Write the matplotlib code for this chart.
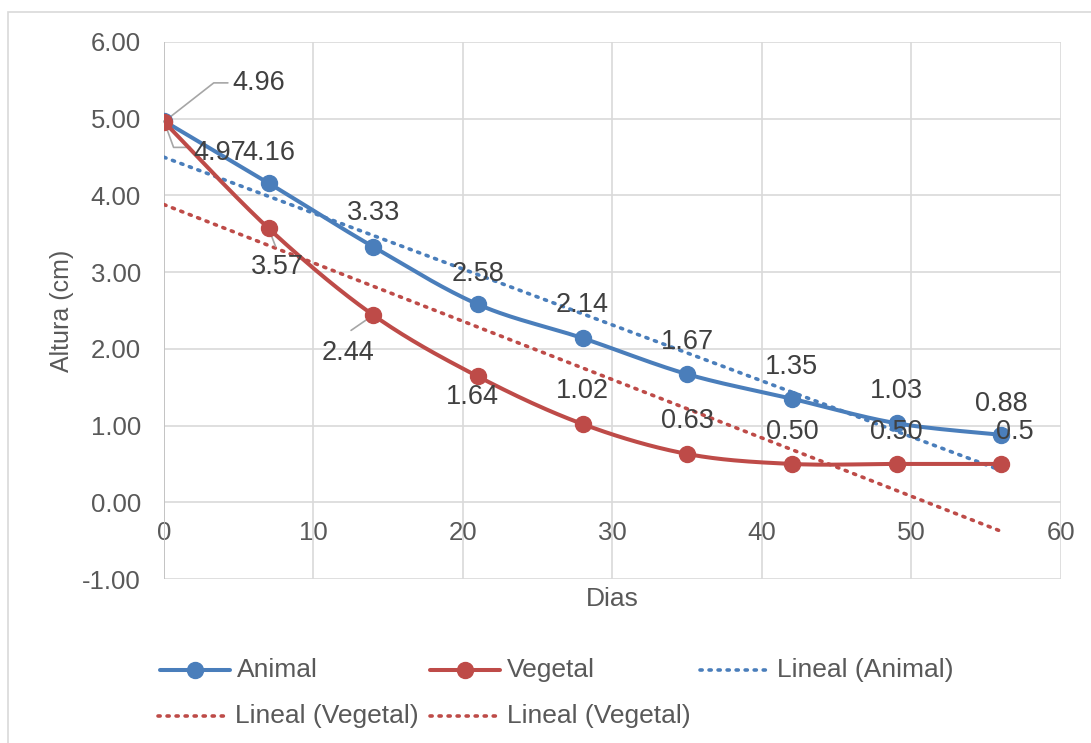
import matplotlib.pyplot as plt
import numpy as np
from matplotlib.lines import Line2D
from matplotlib.patches import Rectangle

plt.rcParams['font.family'] = ['Liberation Sans', 'DejaVu Sans']

dias = [0, 7, 14, 21, 28, 35, 42, 49, 56]
animal = [4.97, 4.16, 3.33, 2.58, 2.14, 1.67, 1.35, 1.03, 0.88]
vegetal = [4.96, 3.57, 2.44, 1.64, 1.02, 0.63, 0.50, 0.50, 0.50]
animal_txt = ['4.97', '4.16', '3.33', '2.58', '2.14', '1.67', '1.35', '1.03', '0.88']
vegetal_txt = ['4.96', '3.57', '2.44', '1.64', '1.02', '0.63', '0.50', '0.50', '0.5']

# label offsets in points (dx, dy)
animal_off = [(40, -23), (0, 22), (0, 24), (0, 22), (0, 24), (0, 23), (0, 23), (0, 23), (0, 22)]
vegetal_off = [(68, 28), (6, -28), (-18, -27), (-4, -15), (0, 24), (0, 24), (0, 23), (0, 23), (10, 23)]

BLUE = '#4a7ebb'
RED = '#be4b48'
GRID = '#d9d9d9'
TXT = '#404040'
DOT = (0, (0.6, 1.9))


def smooth(x, y, n=30):
    # bezier smoothing, same idea as the spreadsheet "smoothed line"
    x = np.asarray(x, float)
    y = np.asarray(y, float)
    px = np.concatenate([[x[0]], x, [x[-1]]])
    py = np.concatenate([[y[0]], y, [y[-1]]])
    t = np.linspace(0, 1, n)
    xs, ys = [], []
    for i in range(len(x) - 1):
        p0 = np.array([px[i + 1], py[i + 1]])
        p3 = np.array([px[i + 2], py[i + 2]])
        c1 = p0 + (np.array([px[i + 2], py[i + 2]]) - np.array([px[i], py[i]])) / 6
        c2 = p3 - (np.array([px[i + 3], py[i + 3]]) - np.array([px[i + 1], py[i + 1]])) / 6
        b = ((1 - t) ** 3)[:, None] * p0 + (3 * (1 - t) ** 2 * t)[:, None] * c1 \
            + (3 * (1 - t) * t ** 2)[:, None] * c2 + (t ** 3)[:, None] * p3
        xs.append(b[:, 0])
        ys.append(b[:, 1])
    return np.concatenate(xs), np.concatenate(ys)


fig = plt.figure(figsize=(10.91, 7.43), dpi=100)
ax = fig.add_axes([0.1503, 0.2207, 0.8222, 0.7228])

fig.patches.append(Rectangle((8 / 1091, -0.1), 1.2, 1 - 12 / 743 + 0.1,
                             transform=fig.transFigure, fill=False,
                             edgecolor='#d9d9d9', lw=1.2))

# linear trend lines
for vals, col in [(animal, BLUE), (vegetal, RED)]:
    m, c = np.polyfit(dias, vals, 1)
    xx = np.array([dias[0], dias[-1]])
    ax.plot(xx, m * xx + c, color=col, lw=2.6, ls=DOT,
            dash_capstyle='round', zorder=3)

for vals, col in [(animal, BLUE), (vegetal, RED)]:
    sx, sy = smooth(dias, vals)
    ax.plot(sx, sy, color=col, lw=2.9, zorder=4, solid_capstyle='round')
    ax.plot(dias, vals, 'o', color=col, ms=11.5, zorder=5)

for x, v, s, off in zip(dias, animal, animal_txt, animal_off):
    ax.annotate(s, (x, v), xytext=off, textcoords='offset points',
                ha='center', va='center', fontsize=19.5, color=TXT, zorder=6)
for x, v, s, off in zip(dias, vegetal, vegetal_txt, vegetal_off):
    ax.annotate(s, (x, v), xytext=off, textcoords='offset points',
                ha='center', va='center', fontsize=19.5, color=TXT, zorder=6)

# leader lines for the crowded labels
ax.annotate('', (0, 4.97), xytext=(19, -19), textcoords='offset points',
            arrowprops=dict(arrowstyle='-', color='#a6a6a6', lw=1.2,
                            connectionstyle='angle,angleA=0,angleB=110,rad=0',
                            shrinkA=0, shrinkB=0))
ax.annotate('', (0, 4.96), xytext=(46, 28), textcoords='offset points',
            arrowprops=dict(arrowstyle='-', color='#a6a6a6', lw=1.2,
                            connectionstyle='angle,angleA=0,angleB=38,rad=0',
                            shrinkA=0, shrinkB=0))
ax.annotate('', (dias[1], vegetal[1]), xytext=(5, -13), textcoords='offset points',
            arrowprops=dict(arrowstyle='-', color='#a6a6a6', lw=1.2,
                            shrinkA=0, shrinkB=5))
ax.annotate('', (dias[2], vegetal[2]), xytext=(-16, -11), textcoords='offset points',
            arrowprops=dict(arrowstyle='-', color='#a6a6a6', lw=1.2,
                            shrinkA=0, shrinkB=5))

ax.set_xlim(0, 60)
ax.set_ylim(-1, 6)
ax.set_xticks(range(0, 61, 10))
ax.set_yticks(range(-1, 7))
ax.set_yticklabels([f'{v:.2f}' for v in range(-1, 7)])
ax.grid(True, color=GRID, lw=1.2, zorder=0)
ax.set_axisbelow(True)
for sp in ax.spines.values():
    sp.set_visible(False)
ax.axvline(0, color='#bfbfbf', lw=1.2, zorder=1)
ax.tick_params(length=0, labelcolor='#595959')
ax.tick_params(axis='y', pad=16.5, labelsize=18.5)
# x tick labels sit next to the zero line, not at the bottom
ax.tick_params(axis='x', pad=-42, labelsize=18.5)

ax.set_ylabel('Altura (cm)', fontsize=18, color='#595959', labelpad=6)
ax.set_xlabel('Dias', fontsize=19, color='#595959', labelpad=6)

# legend
items = [
    ('Animal', BLUE, '-', 'o', 160, 670),
    ('Vegetal', RED, '-', 'o', 430, 670),
    ('Lineal (Animal)', BLUE, DOT, None, 700, 670),
    ('Lineal (Vegetal)', RED, DOT, None, 158, 716),
    ('Lineal (Vegetal)', RED, DOT, None, 430, 716),
]
for lab, col, ls, mk, px, py in items:
    x0 = px / 1091
    y0 = 1 - py / 743
    w = 70 / 1091
    fig.add_artist(Line2D([x0, x0 + w], [y0, y0], transform=fig.transFigure,
                          color=col, lw=2.9 if mk else 2.6, ls=ls,
                          dash_capstyle='round', solid_capstyle='round'))
    if mk:
        fig.add_artist(Line2D([x0 + w / 2], [y0], transform=fig.transFigure,
                              color=col, marker='o', ms=11.5, ls='none'))
    fig.text(x0 + w + 7 / 1091, y0, lab, fontsize=19, color='#595959',
             ha='left', va='center')

fig.savefig('out.png', dpi=100)
